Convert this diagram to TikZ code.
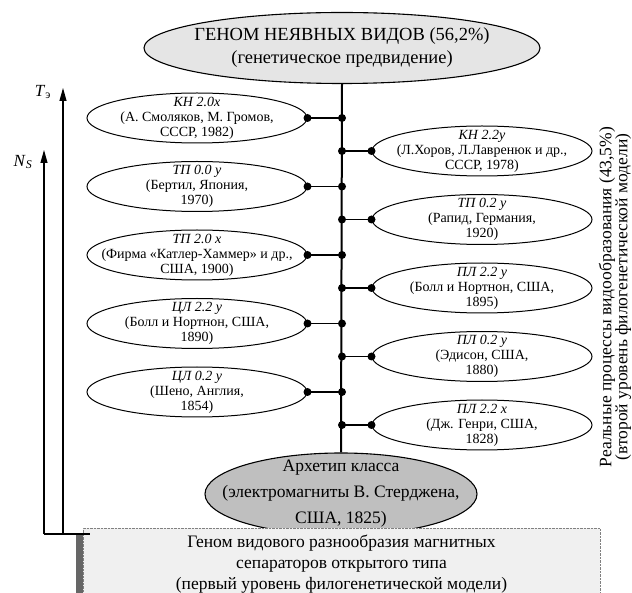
\documentclass[tikz,border=0pt]{standalone}
\usepackage{fontspec}
\setmainfont{Liberation Serif}
\usetikzlibrary{shapes.geometric,arrows.meta}

\definecolor{topfill}{gray}{0.9}
\definecolor{archfill}{gray}{0.75}
\definecolor{boxfill}{gray}{0.94}
\definecolor{shadow}{gray}{0.4}

\begin{document}
\begin{tikzpicture}[x=1pt, y=-1pt, node distance=68.5pt,
    genus/.style={draw, ellipse, line width=1.1pt, inner sep=-40pt, align=center},
    species/.style={draw, ellipse, line width=1pt, minimum width=220pt, minimum height=50pt,
        inner sep=-40pt, align=center, font=\fontsize{14}{15}\selectfont},
    branch/.style={line width=1.8pt},
    axis/.style={line width=1.2pt, -{Triangle[length=13pt, width=7pt]}}]
    \useasboundingbox (0,0) rectangle (632,593);

    % Genome of implicit species
    \node (top) [genus, fill=topfill, minimum width=396pt, minimum height=71pt,
        font=\fontsize{18.5}{23}\selectfont] at (342,48)
        {ГЕНОМ НЕЯВНЫХ ВИДОВ (56,2\%)\\(генетическое предвидение)};

    % Left branch
    \node (kn1) [species] at (197,118) {\textit{КН 2.0x}\\(А. Смоляков, М. Громов,\\СССР, 1982)};
    \node (tp1) [species, below of=kn1] {\textit{ТП 0.0 y}\\(Бертил, Япония,\\1970)};
    \node (tp2) [species, below of=tp1] {\textit{ТП 2.0 x}\\(Фирма «Катлер-Хаммер» и др.,\\США, 1900)};
    \node (cl1) [species, below of=tp2] {\textit{ЦЛ 2.2 y}\\(Болл и Нортнон, США,\\1890)};
    \node (cl2) [species, below of=cl1] {\textit{ЦЛ 0.2 y}\\(Шено, Англия,\\1854)};

    % Right branch
    \node (kn2) [species] at (482,151) {\textit{КН 2.2y}\\(Л.Хоров, Л.Лавренюк и др.,\\СССР, 1978)};
    \node (tp3) [species, below of=kn2] {\textit{ТП 0.2 y}\\(Рапид, Германия,\\1920)};
    \node (pl1) [species, below of=tp3] {\textit{ПЛ 2.2 y}\\(Болл и Нортнон, США,\\1895)};
    \node (pl2) [species, below of=pl1] {\textit{ПЛ 0.2 y}\\(Эдисон, США,\\1880)};
    \node (pl3) [species, below of=pl2] {\textit{ПЛ 2.2 x}\\(Дж. Генри, США,\\1828)};

    % Archetype
    \node (arch) [genus, fill=archfill, minimum width=272pt, minimum height=82pt,
        font=\fontsize{17.5}{26}\selectfont] at (341,494)
        {Архетип класса\\(электромагниты В. Стерджена,\\США, 1825)};

    % Trunk and branches
    \draw[line width=2pt] (top.south) -- (arch.north);
    \foreach \n in {kn1,tp1,tp2,cl1,cl2} {
        \draw[branch] (\n.east) -- (\n.east -| top.south);
        \fill (\n.east) circle (4pt);
        \fill (\n.east -| top.south) circle (4pt);
    }
    \foreach \n in {kn2,tp3,pl1,pl2,pl3} {
        \draw[branch] (\n.west) -- (\n.west -| top.south);
        \fill (\n.west) circle (4pt);
        \fill (\n.west -| top.south) circle (4pt);
    }

    % First level
    \fill[shadow] (76,534) rectangle (83,593);
    \node (genome) [draw=gray, densely dotted, fill=boxfill, minimum width=517pt, minimum height=72pt,
        anchor=north, align=center, font=\fontsize{17.5}{21}\selectfont] at (341.5,528)
        {Геном видового разнообразия магнитных\\сепараторов открытого типа\\(первый уровень филогенетической модели)};

    % Second level
    \node (levelTwo) [rotate=90, align=center, font=\fontsize{17.5}{16}\selectfont] at (615,297)
        {Реальные процессы видообразования (43,5\%)\\(второй уровень филогенетической модели)};

    % Axes
    \coordinate (nsfoot) at (44,534);
    \coordinate (tfoot) at (63,534);
    \coordinate (nshead) at (44,150);
    \coordinate (thead) at (63,88);
    \coordinate (corner) at (90,534);
    \draw[axis] (nsfoot) -- (nshead);
    \draw[axis] (tfoot) -- (thead);
    \draw[line width=1.2pt] (nsfoot) -- (corner);
    \node (tlabel) [font=\fontsize{17}{17}\selectfont] at (43,92) {\textit{T}\textsubscript{э}};
    \node (nslabel) [font=\fontsize{17}{17}\selectfont] at (23,162) {\textit{N}\textsubscript{\textit{S}}};
\end{tikzpicture}
\end{document}
